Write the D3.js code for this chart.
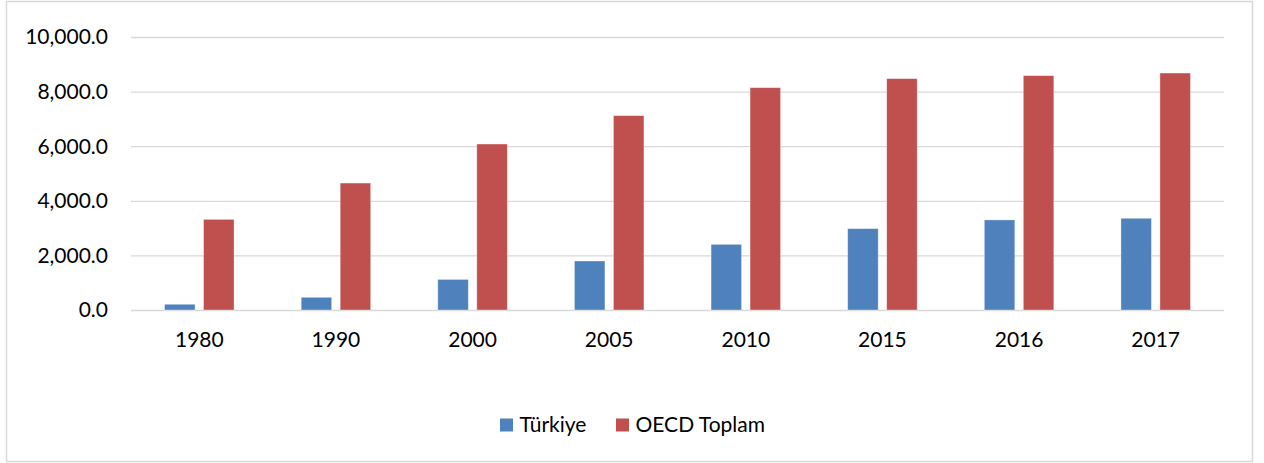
<!DOCTYPE html>
<html><head><meta charset="utf-8">
<script src="https://cdn.jsdelivr.net/npm/d3@7"></script>
<style>body{margin:0;background:#fff}svg{display:block}text{font-family:Lato,"Open Sans",sans-serif;fill:#000}</style>
</head><body>
<svg id="c" width="1264" height="463"></svg>
<script>
const years = ["1980","1990","2000","2005","2010","2015","2016","2017"];
const seriesNames = ["Türkiye","OECD Toplam"];
const turkiye = [210,465,1120,1795,2405,2980,3300,3360];
const oecd = [3320,4650,6080,7120,8145,8475,8585,8680];
const yTicks = [0,2000,4000,6000,8000,10000];
const colors = ["#4f81bd","#c0504d"];

const svg = d3.select("#c");
svg.append("rect").attr("x",6.5).attr("y",1.5).attr("width",1246).attr("height",460)
  .attr("fill","#fff").attr("stroke","#d9d9d9").attr("stroke-width",1.5);

const L=131,R=1224,T=37,B=310;
const FS=21;
const y = d3.scaleLinear().domain([0,10000]).range([B,T]);
const x0 = d3.scaleBand().domain(years).range([L,R]).padding(0);
const groupW = 69.5;
const x1 = d3.scaleBand().domain(seriesNames).range([-groupW/2,groupW/2]).paddingInner(0.218).paddingOuter(0);

const fmt = d3.format(",.1f");
const gy = svg.append("g").attr("transform",`translate(${L},0)`)
  .call(d3.axisLeft(y).tickValues(yTicks).tickFormat(fmt).tickSize(-(R-L)).tickPadding(23));
gy.select(".domain").remove();
gy.selectAll(".tick line").attr("stroke","#d9d9d9").attr("stroke-width",1.3);
gy.selectAll(".tick text").attr("font-size",FS).attr("fill","#000").attr("dy","0.33em");

const gx = svg.append("g").attr("transform",`translate(0,${B})`)
  .call(d3.axisBottom(x0).tickSize(0).tickPadding(22.5));
gx.select(".domain").remove();
gx.selectAll(".tick text").attr("font-size",FS).attr("fill","#000");

const data = years.map((yr,i)=>({yr, vals:[turkiye[i],oecd[i]]}));
const g = svg.append("g");
data.forEach(d=>{
  const cx = x0(d.yr)+x0.bandwidth()/2;
  seriesNames.forEach((s,j)=>{
    g.append("rect")
      .attr("x",cx+x1(s)).attr("width",x1.bandwidth())
      .attr("y",y(d.vals[j])).attr("height",y(0)-y(d.vals[j]))
      .attr("fill",colors[j]).attr("stroke","rgba(255,255,255,0.45)").attr("stroke-width",0.8);
  });
});

const leg = svg.append("g");
const legX=[500,616];
seriesNames.forEach((s,j)=>{
  leg.append("rect").attr("x",legX[j]).attr("y",418.5).attr("width",13).attr("height",13).attr("fill",colors[j]);
  leg.append("text").attr("x",legX[j]+19.5).attr("y",432).attr("font-size",FS).text(s);
});
</script>
</body></html>
